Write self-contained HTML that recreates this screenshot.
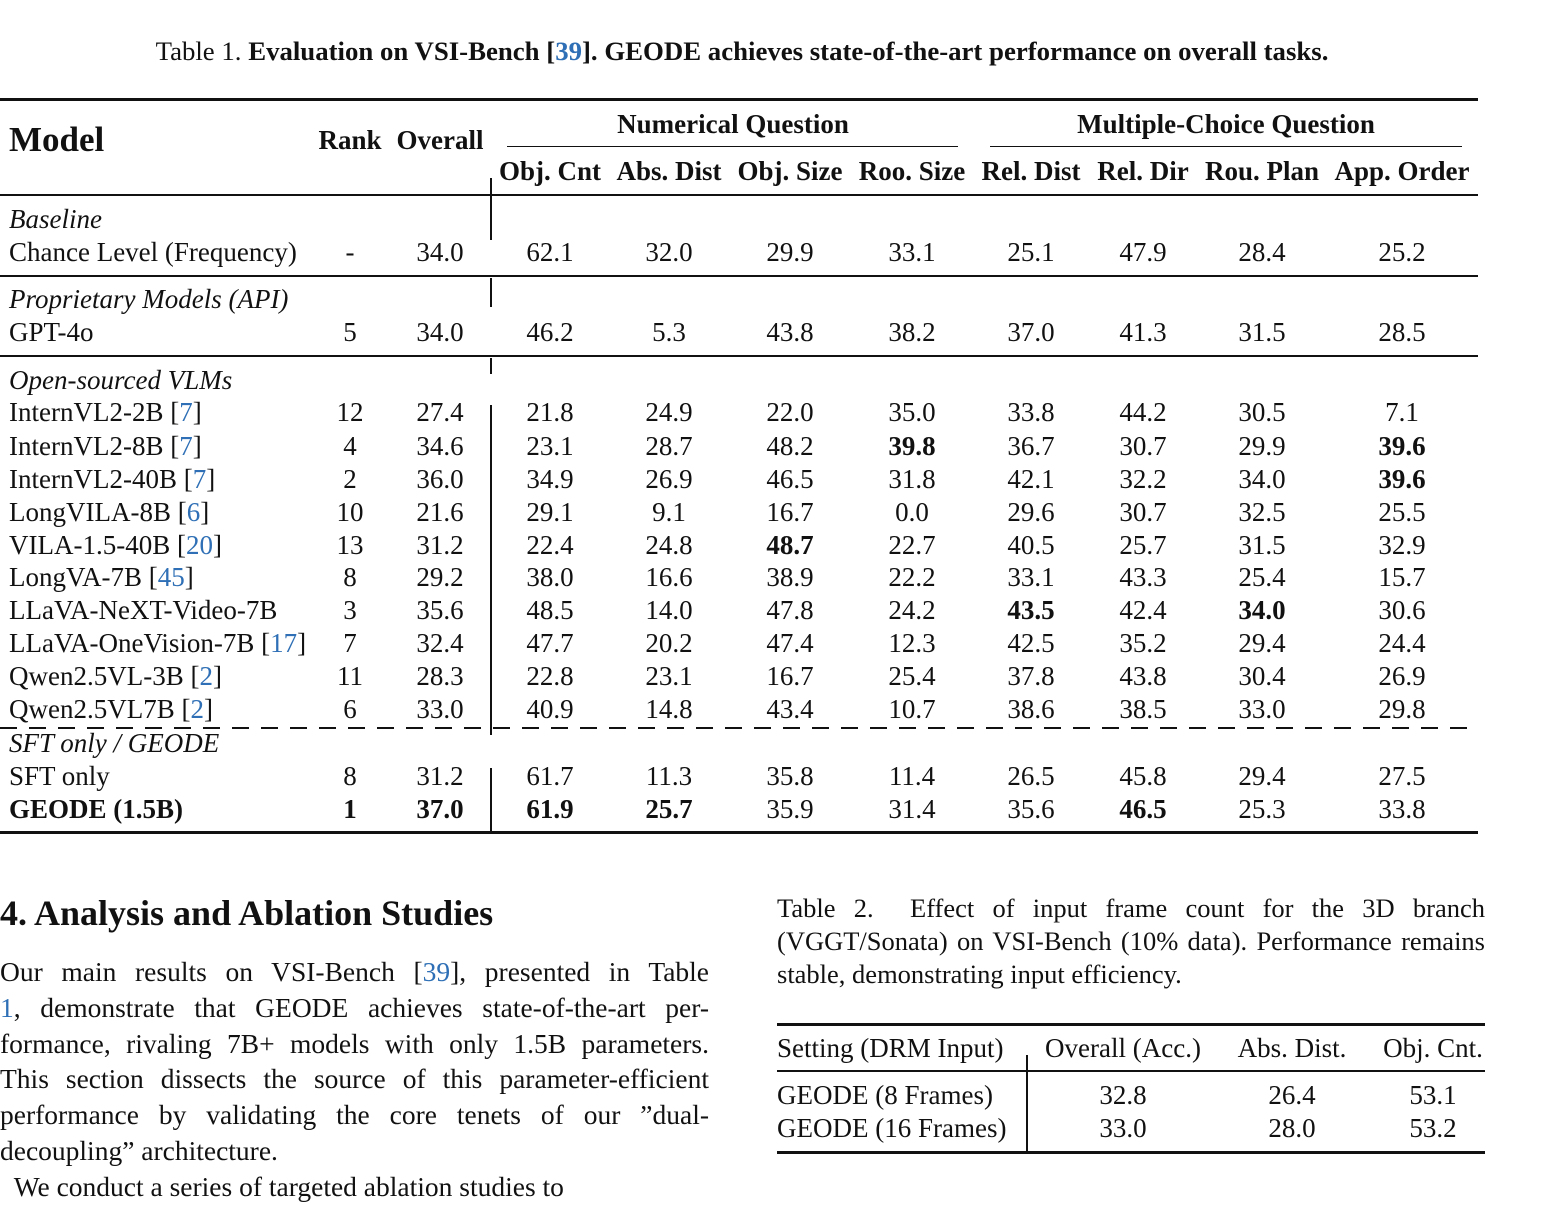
<!DOCTYPE html>
<html><head><meta charset="utf-8">
<style>
body{margin:0;width:1545px;height:1182px;overflow:hidden;background:#fff;font-family:"Liberation Serif",serif;color:#111;position:relative}
.t{position:absolute;white-space:nowrap;line-height:30px;font-size:27px}
.c{transform:translateX(-50%)}
.b{font-weight:bold}
.i{font-style:italic}
.ln{position:absolute;background:#111}
a,.lk{color:#2e6fb5;text-decoration:none}
.p{position:absolute;left:0;width:709px;font-size:27.5px;line-height:35.8px;text-align:justify;text-align-last:justify}
</style></head><body>
<div class="t c" style="left:742px;top:36px;font-size:26.8px">Table 1. <b>Evaluation on VSI-Bench [<span class="lk">39</span>]. GEODE achieves state-of-the-art performance on overall tasks.</b></div>
<div class="ln" style="left:0;top:98px;width:1478px;height:3px"></div>
<div class="t b" style="left:9px;top:122px;font-size:35px;line-height:36px">Model</div>
<div class="t b c" style="left:350px;top:125px">Rank</div>
<div class="t b c" style="left:440px;top:125px">Overall</div>
<div class="t b c" style="left:733px;top:109px">Numerical Question</div>
<div class="ln" style="left:507px;top:146px;width:451px;height:1px"></div>
<div class="t b c" style="left:1226px;top:109px">Multiple-Choice Question</div>
<div class="ln" style="left:990px;top:146px;width:472px;height:1px"></div>
<div class="ln" style="left:0;top:194px;width:1478px;height:1.5px"></div>
<div class="ln" style="left:0;top:275px;width:1478px;height:1.5px"></div>
<div class="ln" style="left:0;top:355px;width:1478px;height:1.5px"></div>
<div style="position:absolute;left:0;top:727px;width:1478px;height:1.5px;background:repeating-linear-gradient(90deg,#111 0 17px,transparent 17px 29px)"></div>
<div class="ln" style="left:0;top:831px;width:1478px;height:2.5px"></div>
<div class="ln" style="left:490px;top:178px;width:1.5px;height:62px"></div>
<div class="ln" style="left:490px;top:278px;width:1.5px;height:29px"></div>
<div class="ln" style="left:490px;top:358px;width:1.5px;height:16px"></div>
<div class="ln" style="left:490px;top:405px;width:1.5px;height:330px"></div>
<div class="ln" style="left:490px;top:768px;width:1.5px;height:64px"></div>
<div id="t1"></div>

<div class="t b" style="left:0;top:893px;font-size:36px;line-height:40px">4. Analysis and Ablation Studies</div>
<div class="p" style="top:954px">
<div>Our main results on VSI-Bench [<span class="lk">39</span>], presented in Table</div>
<div><span class="lk">1</span>, demonstrate that GEODE achieves state-of-the-art per-</div>
<div>formance, rivaling 7B+ models with only 1.5B parameters.</div>
<div>This section dissects the source of this parameter-efficient</div>
<div>performance by validating the core tenets of our ”dual-</div>
<div style="text-align-last:left">decoupling” architecture.</div>
<div style="text-align-last:left">&nbsp;&nbsp;We conduct a series of targeted ablation studies to</div>
</div>

<div class="p" style="left:777px;width:708px;top:892px;font-size:26.5px;line-height:33px">
<div>Table 2.&nbsp; Effect of input frame count for the 3D branch</div>
<div>(VGGT/Sonata) on VSI-Bench (10% data). Performance remains</div>
<div style="text-align-last:left">stable, demonstrating input efficiency.</div>
</div>
<div class="ln" style="left:777px;top:1023px;width:708px;height:2.5px"></div>
<div class="ln" style="left:777px;top:1070px;width:708px;height:1.5px"></div>
<div class="ln" style="left:777px;top:1151px;width:708px;height:2.5px"></div>
<div class="ln" style="left:1026px;top:1055px;width:1.5px;height:97px"></div>
<div id="t2"></div>

<script>
const cols=[550,669,790,912,1031,1143,1262,1402];
const subHeaders=["Obj. Cnt","Abs. Dist","Obj. Size","Roo. Size","Rel. Dist","Rel. Dir","Rou. Plan","App. Order"];
const groupLabels=[["Baseline",219],["Proprietary Models (API)",299],["Open-sourced VLMs",380],["SFT only / GEODE",743]];
const rowModels=["Chance Level (Frequency)","GPT-4o","InternVL2-2B [7]","InternVL2-8B [7]","InternVL2-40B [7]","LongVILA-8B [6]","VILA-1.5-40B [20]","LongVA-7B [45]","LLaVA-NeXT-Video-7B","LLaVA-OneVision-7B [17]","Qwen2.5VL-3B [2]","Qwen2.5VL7B [2]","SFT only","GEODE (1.5B)"];
const rowY=[252,332,412,446,479,512,545,577,610,643,676,709,776,809];
const ranks=["-","5","12","4","2","10","13","8","3","7","11","6","8","1"];
const overall=["34.0","34.0","27.4","34.6","36.0","21.6","31.2","29.2","35.6","32.4","28.3","33.0","31.2","37.0"];
const values=[
["62.1","32.0","29.9","33.1","25.1","47.9","28.4","25.2"],
["46.2","5.3","43.8","38.2","37.0","41.3","31.5","28.5"],
["21.8","24.9","22.0","35.0","33.8","44.2","30.5","7.1"],
["23.1","28.7","48.2","*39.8","36.7","30.7","29.9","*39.6"],
["34.9","26.9","46.5","31.8","42.1","32.2","34.0","*39.6"],
["29.1","9.1","16.7","0.0","29.6","30.7","32.5","25.5"],
["22.4","24.8","*48.7","22.7","40.5","25.7","31.5","32.9"],
["38.0","16.6","38.9","22.2","33.1","43.3","25.4","15.7"],
["48.5","14.0","47.8","24.2","*43.5","42.4","*34.0","30.6"],
["47.7","20.2","47.4","12.3","42.5","35.2","29.4","24.4"],
["22.8","23.1","16.7","25.4","37.8","43.8","30.4","26.9"],
["40.9","14.8","43.4","10.7","38.6","38.5","33.0","29.8"],
["61.7","11.3","35.8","11.4","26.5","45.8","29.4","27.5"],
["*61.9","*25.7","35.9","31.4","35.6","*46.5","25.3","33.8"]];
const t1=document.getElementById('t1');
function mk(parent,txt,x,y,cls,html){const d=document.createElement('div');d.className='t '+cls;d.style.left=x+'px';d.style.top=(y-15)+'px';if(html)d.innerHTML=txt;else d.textContent=txt;parent.appendChild(d);return d;}
subHeaders.forEach((h,i)=>{const d=mk(t1,h,cols[i],171,'b c');

});
groupLabels.forEach(g=>{const d=mk(t1,g[0],9,g[1],'i');

});
rowModels.forEach((m,r)=>{const last=r===rowModels.length-1;
const html=m.replace(/\[(\d+)\]/,'[<span class="lk">$1</span>]');
const d=mk(t1,html,9,rowY[r],last?'b':'',true);


const rk=mk(t1,ranks[r],350,rowY[r],'c'+(last?' b':''));


const ov=mk(t1,overall[r],440,rowY[r],'c'+(last?' b':''));


values[r].forEach((v,i)=>{const bold=v[0]==='*';const c=mk(t1,bold?v.slice(1):v,cols[i],rowY[r],'c'+(bold?' b':''));

});});
const t2=document.getElementById('t2');
const t2Headers=["Overall (Acc.)","Abs. Dist.","Obj. Cnt."];
const t2Cols=[1123,1292,1433];
const t2Rows=["GEODE (8 Frames)","GEODE (16 Frames)"];
const t2Vals=[["32.8","26.4","53.1"],["33.0","28.0","53.2"]];
const t2Y=[1095,1128];
let h=mk(t2,"Setting (DRM Input)",777,1048,'');


t2Headers.forEach((s,i)=>{const d=mk(t2,s,t2Cols[i],1048,'c');

});
t2Rows.forEach((s,r)=>{const d=mk(t2,s,777,t2Y[r],'');


t2Vals[r].forEach((v,i)=>{const c=mk(t2,v,t2Cols[i],t2Y[r],'c');

});});
</script>
</body></html>
